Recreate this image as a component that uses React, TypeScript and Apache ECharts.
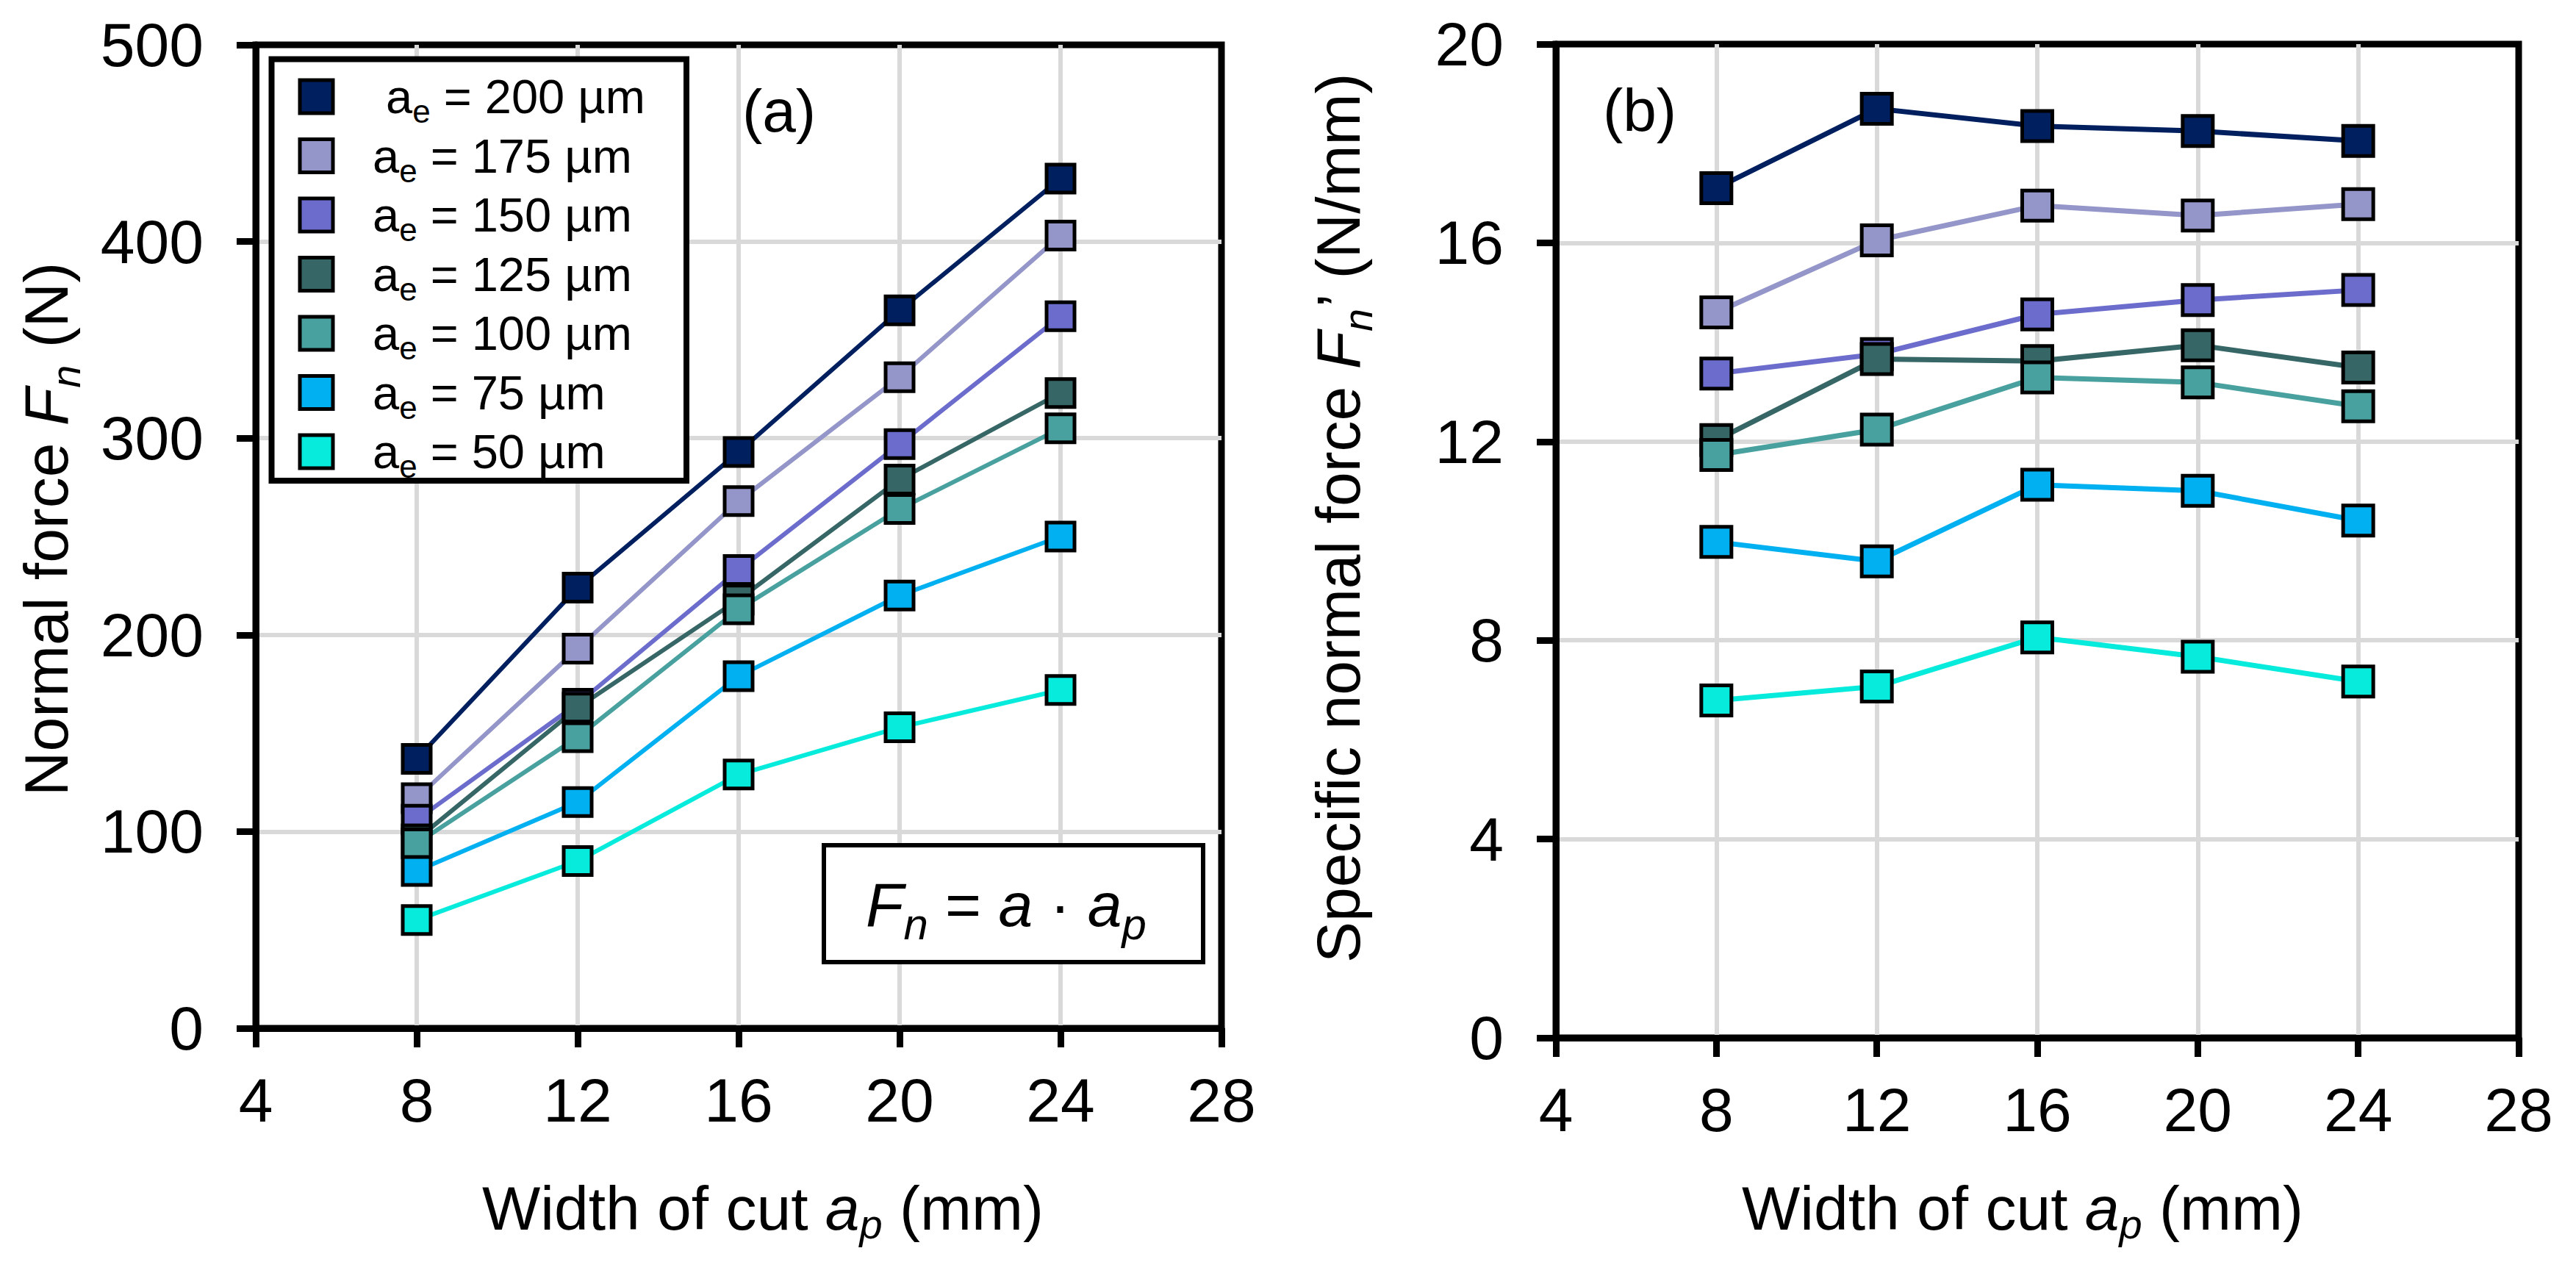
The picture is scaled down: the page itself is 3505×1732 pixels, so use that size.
import React, { useEffect, useRef } from 'react';
import * as echarts from 'echarts';

const FONT = '"Liberation Sans", Arial, sans-serif';

// x values: width of cut ap (mm)
const widths = [8, 12, 16, 20, 24];
// depth of cut ae (µm), one series per value
const aeValues = [200, 175, 150, 125, 100, 75, 50];
const colors = ['#001F5F', '#9495C8', '#6C6CCC', '#376666', '#48A19E', '#00B0F0', '#06EBDB'];

// (a) normal force Fn (N)
const force200 = [137, 224, 293, 365, 432];
const force175 = [117, 193, 268, 331, 403];
const force150 = [106, 165, 233, 297, 362];
const force125 = [96, 163, 218, 279, 323];
const force100 = [94, 148, 213, 264, 305];
const force75 = [80, 115, 179, 220, 250];
const force50 = [55, 85, 129, 153, 172];

// (b) specific normal force Fn' (N/mm)
const spec200 = [17.1, 18.7, 18.35, 18.25, 18.05];
const spec175 = [14.6, 16.05, 16.75, 16.55, 16.78];
const spec150 = [13.37, 13.76, 14.56, 14.85, 15.05];
const spec125 = [12.03, 13.66, 13.62, 13.94, 13.49];
const spec100 = [11.73, 12.24, 13.29, 13.19, 12.71];
const spec75 = [9.98, 9.59, 11.13, 11.01, 10.41];
const spec50 = [6.79, 7.07, 8.06, 7.67, 7.17];

const forceSeries = [force200, force175, force150, force125, force100, force75, force50];
const specSeries = [spec200, spec175, spec150, spec125, spec100, spec75, spec50];

// tick labels
const xTicks = [4, 8, 12, 16, 20, 24, 28];
const forceTicks = [0, 100, 200, 300, 400, 500];
const specTicks = [0, 4, 8, 12, 16, 20];

const names = aeValues.map((v) => `ae = ${v} µm`);

// subscripts: small box anchored to the bottom of the line, so the glyph drops below the baseline
const titleRich = {
  t: { fontSize: 84, lineHeight: 84, fontFamily: FONT, color: '#000' },
  i: { fontSize: 84, lineHeight: 84, fontFamily: FONT, fontStyle: 'italic', color: '#000' },
  ns: { fontSize: 56, height: 31, lineHeight: 31, fontFamily: FONT, fontStyle: 'italic', color: '#000', verticalAlign: 'bottom' },
  ps: { fontSize: 56, height: 42, lineHeight: 42, fontFamily: FONT, fontStyle: 'italic', color: '#000', verticalAlign: 'bottom' },
};

const gridLine = {
  show: true,
  showMinLine: false,
  showMaxLine: false,
  lineStyle: { color: '#D9D9D9', width: 6 },
};

const xAxisFor = (gridIndex: number, nameGap: number, shift: number) => ({
  type: 'value',
  gridIndex,
  min: xTicks[0],
  max: xTicks[xTicks.length - 1],
  interval: xTicks[1] - xTicks[0],
  axisLine: { show: true, onZero: false, lineStyle: { color: '#000', width: 9 } },
  axisTick: { show: true, length: 26, lineStyle: { color: '#000', width: 9 } },
  axisLabel: { fontSize: 84, fontFamily: FONT, color: '#000', margin: 56 },
  splitLine: gridLine,
  name: '{t|Width of cut }{i|a}{ps|p}{t| (mm)}',
  nameLocation: 'middle',
  nameGap,
  nameTextStyle: {
    rich: titleRich,
    padding: shift > 0 ? [0, 0, 0, shift * 2] : [0, -shift * 2, 0, 0],
  },
});

const yAxisFor = (gridIndex: number, ticks: number[], name: string, nameGap: number, shift: number) => ({
  type: 'value',
  gridIndex,
  min: ticks[0],
  max: ticks[ticks.length - 1],
  interval: ticks[1] - ticks[0],
  axisLine: { show: true, onZero: false, lineStyle: { color: '#000', width: 9 } },
  axisTick: { show: true, length: 26, lineStyle: { color: '#000', width: 9 } },
  axisLabel: { fontSize: 84, fontFamily: FONT, color: '#000', margin: 71 },
  splitLine: gridLine,
  name,
  nameLocation: 'middle',
  nameRotate: 90,
  nameGap,
  nameTextStyle: { rich: titleRich, padding: [0, 0, 0, shift * 2] },
});

const lineSeries = (values: number[], i: number, axis: number, size: number, width: number) => ({
  type: 'line',
  name: names[i],
  xAxisIndex: axis,
  yAxisIndex: axis,
  data: values.map((v, k) => [widths[k], v]),
  symbol: 'rect',
  symbolSize: size,
  lineStyle: { color: colors[i], width },
  itemStyle: { color: colors[i], borderColor: '#000', borderWidth: 5 },
  z: 3,
});

export default function App() {
  const ref = useRef<HTMLDivElement>(null);

  useEffect(() => {
    if (!ref.current) return;
    const chart = echarts.init(ref.current, null, { renderer: 'svg' });

    const option = {
      animation: false,
      backgroundColor: '#fff',
      textStyle: { fontFamily: FONT },
      grid: [
        { left: 348, top: 61, width: 1314, height: 1338, show: true, borderColor: '#000', borderWidth: 9, backgroundColor: 'transparent' },
        { left: 2117, top: 60, width: 1310, height: 1352, show: true, borderColor: '#000', borderWidth: 9, backgroundColor: 'transparent' },
      ],
      xAxis: [xAxisFor(0, 203, 33), xAxisFor(1, 190, -20)],
      yAxis: [
        yAxisFor(0, forceTicks, '{t|Normal force }{i|F}{ns|n}{t| (N)}', 243, 10),
        yAxisFor(1, specTicks, '{t|Specific normal force }{i|F}{ns|n}{t|’ (N/mm)}', 254, 32),
      ],
      legend: {
        data: names,
        orient: 'vertical',
        left: 405.5,
        top: 99,
        padding: 0,
        itemGap: 6,
        itemWidth: 45,
        itemHeight: 45,
        icon: 'rect',
        selectedMode: false,
        z: 20,
        itemStyle: { borderColor: '#000', borderWidth: 5 },
        formatter: (name: string) => {
          const i = names.indexOf(name);
          return `{g|}${i === 0 ? '{m| }' : ''}{m|a}{s|e}{m| = ${aeValues[i]} µm}`;
        },
        textStyle: {
          color: '#000',
          fontFamily: FONT,
          fontSize: 65,
          rich: {
            g: { width: 49 },
            m: { fontSize: 65, lineHeight: 70, fontFamily: FONT, color: '#000' },
            s: { fontSize: 44, height: 30, lineHeight: 30, fontFamily: FONT, color: '#000', verticalAlign: 'bottom' },
          },
        },
      },
      graphic: [
        {
          type: 'rect',
          z: 10,
          shape: { x: 369.5, y: 80.5, width: 564.5, height: 573.5 },
          style: { fill: '#fff', stroke: '#000', lineWidth: 8 },
        },
        {
          type: 'rect',
          z: 10,
          shape: { x: 1121, y: 1150, width: 516, height: 159 },
          style: { fill: '#fff', stroke: '#000', lineWidth: 6 },
        },
        {
          type: 'text',
          z: 11,
          x: 1369,
          y: 1231,
          style: {
            text: '{i|F}{s|n}{u| = }{i|a}{u| · }{i|a}{s|p}',
            align: 'center',
            verticalAlign: 'middle',
            rich: {
              i: { fontSize: 84, lineHeight: 84, fontFamily: FONT, fontStyle: 'italic', fill: '#000' },
              u: { fontSize: 84, lineHeight: 84, fontFamily: FONT, fill: '#000' },
              s: { fontSize: 60, height: 31, lineHeight: 31, fontFamily: FONT, fontStyle: 'italic', fill: '#000', verticalAlign: 'bottom' },
            },
          },
        },
        {
          type: 'text',
          z: 11,
          x: 1060,
          y: 150,
          style: { text: '(a)', fontSize: 82, fontFamily: FONT, fill: '#000', align: 'center', verticalAlign: 'middle' },
        },
        {
          type: 'text',
          z: 11,
          x: 2231,
          y: 149,
          style: { text: '(b)', fontSize: 82, fontFamily: FONT, fill: '#000', align: 'center', verticalAlign: 'middle' },
        },
      ],
      series: [
        ...forceSeries.map((s, i) => lineSeries(s, i, 0, 38, 6)),
        ...specSeries.map((s, i) => lineSeries(s, i, 1, 41, 7)),
      ],
    };

    // @ts-ignore
    chart.setOption(option);

    return () => {
      chart.dispose();
    };
  }, []);

  return (
    <div
      ref={ref}
      style={{ position: 'fixed', left: 0, top: 0, width: 3505, height: 1732, background: '#fff' }}
    />
  );
}
